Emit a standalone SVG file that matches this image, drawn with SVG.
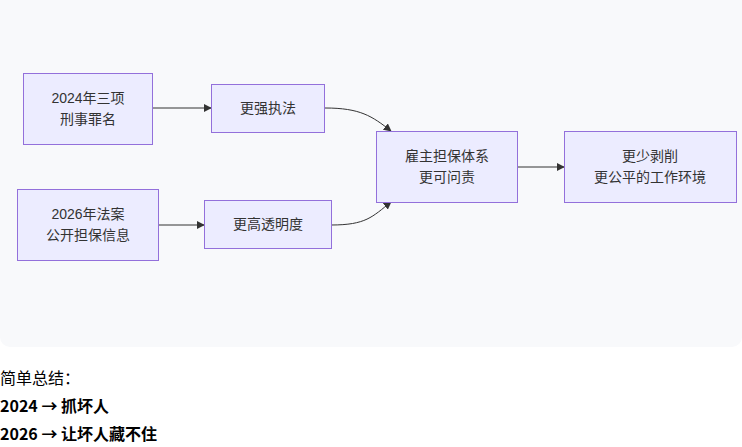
<svg xmlns="http://www.w3.org/2000/svg" width="742" height="447" viewBox="0 0 742 447">
<style>
.node rect{fill:#ececff;stroke:#9370db;stroke-width:1}
.node text{font-family:"Liberation Sans","Noto Sans CJK SC",sans-serif;font-size:14px;fill:#333;text-anchor:middle}
.edge{fill:none;stroke:#333;stroke-width:1}
.sum{font-family:"Noto Sans CJK SC","Noto Sans",sans-serif;font-size:16px;fill:#000}
</style>
<defs>
<marker id="arr" viewBox="0 0 10 10" refX="9" refY="5" markerWidth="8" markerHeight="8" orient="auto" markerUnits="userSpaceOnUse">
<path d="M0,0 L10,5 L0,10 z" fill="#333"/>
</marker>
</defs>
<rect x="0" y="-10" width="742" height="357" rx="10" fill="#f8f9fb"/>
<g id="connectors">
<path class="edge" d="M152,108 L211,108" marker-end="url(#arr)"/>
<path class="edge" d="M159,225 L204,225" marker-end="url(#arr)"/>
<path class="edge" d="M325,108 C360,108 372,116 391,131" marker-end="url(#arr)"/>
<path class="edge" d="M331,225 C366,225 372,217 391,202" marker-end="url(#arr)"/>
<path class="edge" d="M518,167 L564,167" marker-end="url(#arr)"/>
</g>
<g id="A" class="node"><rect x="23.5" y="73.5" width="129" height="71"/><text x="88" y="103">2024年三项</text><text x="88" y="124">刑事罪名</text></g>
<g id="B" class="node"><rect x="211.5" y="84.5" width="113" height="48"/><text x="268" y="113">更强执法</text></g>
<g id="C" class="node"><rect x="17.5" y="189.5" width="141" height="71"/><text x="88" y="219">2026年法案</text><text x="88" y="240">公开担保信息</text></g>
<g id="D" class="node"><rect x="204.5" y="200.5" width="127" height="48"/><text x="268" y="229">更高透明度</text></g>
<g id="E" class="node"><rect x="376.5" y="131.5" width="141" height="71"/><text x="447" y="161">雇主担保体系</text><text x="447" y="182">更可问责</text></g>
<g id="F" class="node"><rect x="564.5" y="131.5" width="172" height="71"/><text x="650" y="161">更少剥削</text><text x="650" y="182">更公平的工作环境</text></g>
<text class="sum" x="0" y="384">简单总结：</text>
<text class="sum" x="0" y="412" font-weight="bold">2024 → 抓坏人</text>
<text class="sum" x="0" y="440" font-weight="bold">2026 → 让坏人藏不住</text>
</svg>
